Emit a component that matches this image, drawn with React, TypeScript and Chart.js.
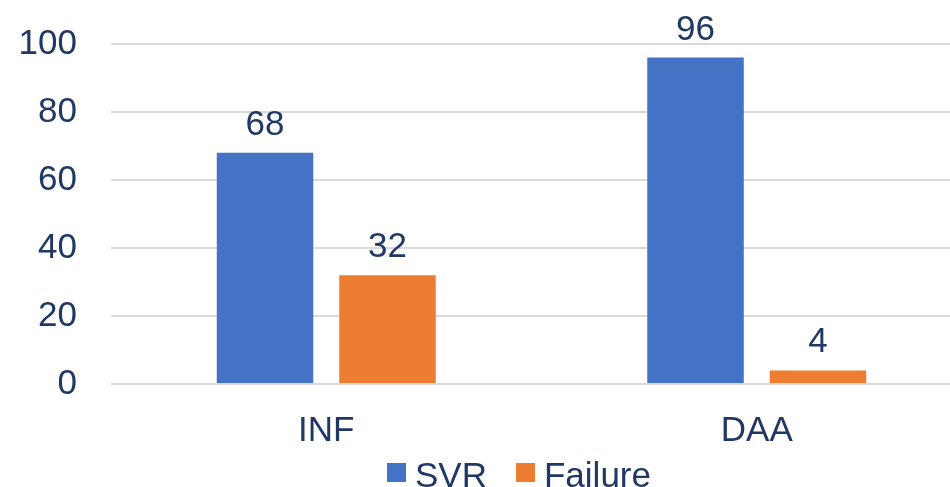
import React, { useEffect, useRef } from "react";
import { Chart, registerables } from "chart.js";

Chart.register(...registerables);

const categories = ["INF", "DAA"];
const svrValues = [68, 96];
const failureValues = [32, 4];
const seriesNames = ["SVR", "Failure"];
const yTicks = [0, 20, 40, 60, 80, 100];

const TEXT = "#203864";
const FONT = "'Liberation Sans', Arial, sans-serif";

const valueLabels = {
  id: "valueLabels",
  afterDatasetsDraw(chart: any) {
    const ctx = chart.ctx;
    ctx.save();
    ctx.fillStyle = TEXT;
    ctx.font = `35px ${FONT}`;
    ctx.textAlign = "center";
    ctx.textBaseline = "alphabetic";
    chart.data.datasets.forEach((ds: any, i: number) => {
      const meta = chart.getDatasetMeta(i);
      meta.data.forEach((bar: any, j: number) => {
        ctx.fillText(String(ds.data[j]), bar.x, bar.y - 18);
      });
    });
    ctx.restore();
  },
};

const customLegend = {
  id: "customLegend",
  afterDraw(chart: any) {
    const ctx = chart.ctx;
    ctx.save();
    ctx.font = `35px ${FONT}`;
    const box = 19;
    const gap = 9;
    const spacing = 29;
    const items = chart.data.datasets.map((ds: any) => ({
      label: ds.label,
      color: ds.backgroundColor,
      w: box + gap + ctx.measureText(ds.label).width,
    }));
    const total = items.reduce((s: number, it: any) => s + it.w, 0) + spacing * (items.length - 1);
    let x = 519 - total / 2;
    const baseline = 487;
    items.forEach((it: any) => {
      ctx.fillStyle = it.color;
      ctx.fillRect(x, baseline - 24, box, box);
      ctx.fillStyle = TEXT;
      ctx.textAlign = "left";
      ctx.textBaseline = "alphabetic";
      ctx.fillText(it.label, x + box + gap, baseline);
      x += it.w + spacing;
    });
    ctx.restore();
  },
};

function zeroPad(scale: any) {
  scale.paddingTop = 0;
  scale.paddingBottom = 0;
  scale.paddingLeft = 0;
  scale.paddingRight = 0;
}

export default function App() {
  const ref = useRef<HTMLCanvasElement>(null);
  useEffect(() => {
    document.body.style.margin = "0";
    const chart = new Chart(ref.current!, {
      type: "bar",
      data: {
        labels: categories,
        datasets: [
          { label: seriesNames[0], data: svrValues, backgroundColor: "#4472C4" },
          { label: seriesNames[1], data: failureValues, backgroundColor: "#ED7D31" },
        ],
      },
      plugins: [valueLabels, customLegend],
      options: {
        responsive: false,
        animation: false,
        devicePixelRatio: 1,
        layout: { padding: { top: 44, right: 28, left: 0, bottom: 0 } },
        datasets: {
          bar: { categoryPercentage: 0.569, barPercentage: 0.788 },
        },
        plugins: {
          legend: { display: false },
          tooltip: { enabled: false },
        },
        scales: {
          x: {
            grid: { display: false, drawTicks: false },
            border: { display: false },
            ticks: { color: TEXT, font: { family: FONT, size: 35 }, padding: 26 },
            afterFit(scale: any) {
              scale.height = 103;
              zeroPad(scale);
            },
          },
          y: {
            min: 0,
            max: 100,
            afterBuildTicks(scale: any) {
              scale.ticks = yTicks.map((v) => ({ value: v }));
            },
            grid: { color: "#d9d9d9", lineWidth: 2, drawTicks: false },
            border: { display: false },
            ticks: { color: TEXT, font: { family: FONT, size: 35 }, padding: 34 },
            afterFit(scale: any) {
              scale.width = 111;
              zeroPad(scale);
            },
          },
        },
      },
    });
    return () => chart.destroy();
  }, []);
  return (
    <div style={{ position: "fixed", left: 0, top: 0, width: 950, height: 487, overflow: "hidden", background: "#fff" }}>
      <canvas ref={ref} width={1000} height={487} style={{ width: 1000, height: 487, display: "block" }} />
    </div>
  );
}
